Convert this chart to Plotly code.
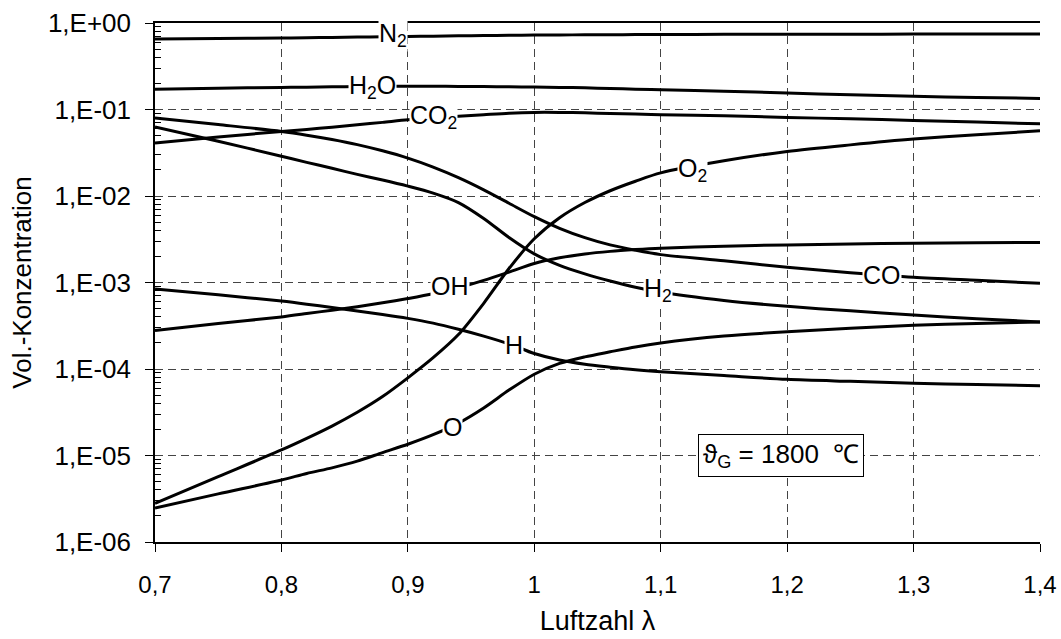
import math
import plotly.graph_objects as go

# Luftzahl lambda grid
lam = [0.70, 0.75, 0.80, 0.82, 0.84, 0.86, 0.88, 0.90, 0.92, 0.94, 0.96, 0.98, 1.00,
       1.02, 1.04, 1.06, 1.08, 1.10, 1.15, 1.20, 1.25, 1.30, 1.35, 1.40]

N2 = [0.652, 0.66, 0.67, 0.675, 0.682, 0.688, 0.694, 0.70, 0.705, 0.71, 0.715, 0.72, 0.725,
      0.728, 0.73, 0.732, 0.734, 0.736, 0.739, 0.741, 0.743, 0.744, 0.745, 0.746]
H2O = [0.172, 0.176, 0.180, 0.181, 0.183, 0.184, 0.185, 0.186, 0.186, 0.185, 0.184, 0.183, 0.182,
       0.180, 0.178, 0.175, 0.172, 0.169, 0.163, 0.155, 0.148, 0.142, 0.138, 0.134]
CO2 = [0.041, 0.048, 0.0558, 0.0588, 0.0625, 0.0665, 0.0710, 0.076, 0.080, 0.0835, 0.087, 0.0905,
       0.0925, 0.0925, 0.0915, 0.090, 0.0885, 0.087, 0.0845, 0.081, 0.078, 0.0748, 0.0715, 0.0684]
CO = [0.080, 0.067, 0.0557, 0.0505, 0.0450, 0.0393, 0.0333, 0.0274, 0.0216, 0.0163, 0.01178,
      0.00824, 0.00577, 0.00423, 0.0033, 0.00272, 0.00236, 0.0021, 0.00178, 0.0015, 0.0013,
      0.00115, 0.00106, 0.00098]
H2 = [0.063, 0.043, 0.0288, 0.0245, 0.0209, 0.0178, 0.0153, 0.0130, 0.0108, 0.0084, 0.0055,
      0.00331, 0.00214, 0.00158, 0.00126, 0.00104, 0.00088, 0.00077, 0.00062, 0.00053, 0.00047,
      0.00042, 0.00038, 0.00035]
O2 = [2.8e-6, 5.7e-6, 1.16e-5, 1.58e-5, 2.19e-5, 3.16e-5, 4.8e-5, 7.9e-5, 1.35e-4, 2.5e-4, 5.75e-4,
      1.45e-3, 3.2e-3, 5.6e-3, 8.4e-3, 0.0115, 0.0148, 0.0185, 0.0255, 0.0327, 0.039, 0.0455,
      0.051, 0.0568]
OH = [2.78e-4, 3.35e-4, 4.0e-4, 4.37e-4, 4.79e-4, 5.25e-4, 5.82e-4, 6.53e-4, 7.41e-4, 8.7e-4,
      1.06e-3, 1.32e-3, 1.66e-3, 1.93e-3, 2.14e-3, 2.29e-3, 2.4e-3, 2.49e-3, 2.63e-3, 2.72e-3,
      2.79e-3, 2.85e-3, 2.88e-3, 2.9e-3]
H = [8.4e-4, 7.2e-4, 6.1e-4, 5.62e-4, 5.13e-4, 4.68e-4, 4.27e-4, 3.85e-4, 3.39e-4, 2.88e-4,
     2.4e-4, 1.95e-4, 1.51e-4, 1.27e-4, 1.135e-4, 1.05e-4, 9.8e-5, 9.3e-5, 8.4e-5, 7.6e-5,
     7.2e-5, 6.85e-5, 6.6e-5, 6.4e-5]
O = [2.47e-6, 3.6e-6, 5.2e-6, 6.2e-6, 7.2e-6, 8.6e-6, 1.08e-5, 1.35e-5, 1.74e-5, 2.37e-5, 3.55e-5,
     5.7e-5, 8.7e-5, 1.16e-4, 1.38e-4, 1.58e-4, 1.8e-4, 2.0e-4, 2.4e-4, 2.7e-4, 2.95e-4, 3.2e-4,
     3.35e-4, 3.5e-4]

series = [N2, H2O, CO2, CO, H2, O2, OH, H, O]

# curve labels: text, lambda, concentration
label_text = ["N<sub>2</sub>", "H<sub>2</sub>O", "CO<sub>2</sub>", "O<sub>2</sub>", "OH",
              "H<sub>2</sub>", "H", "CO", "O"]
label_x = [0.888, 0.872, 0.92, 1.125, 0.933, 1.098, 0.984, 1.275, 0.935]
label_y = [0.72, 0.18, 0.083, 0.020, 9.0e-4, 8.3e-4, 1.9e-4, 1.23e-3, 2.16e-5]

x_ticks = [0.7, 0.8, 0.9, 1.0, 1.1, 1.2, 1.3, 1.4]
x_ticktext = ["0,7", "0,8", "0,9", "1", "1,1", "1,2", "1,3", "1,4"]
y_ticks = [1e-6, 1e-5, 1e-4, 1e-3, 1e-2, 1e-1, 1e0]
y_ticktext = ["1,E-06", "1,E-05", "1,E-04", "1,E-03", "1,E-02", "1,E-01", "1,E+00"]
y_minor = [k * d for d in [1e-6, 1e-5, 1e-4, 1e-3, 1e-2, 1e-1] for k in range(2, 10)]

FONT = "Liberation Sans, Arial, sans-serif"

fig = go.Figure()
for s in series:
    fig.add_trace(go.Scatter(x=lam, y=s, mode="lines",
                             line=dict(color="black", width=3, shape="spline", smoothing=0.8),
                             hoverinfo="skip"))

for t, lx, ly in zip(label_text, label_x, label_y):
    fig.add_annotation(x=lx, y=math.log10(ly), text=t, showarrow=False,
                       bgcolor="white", borderpad=0,
                       font=dict(family=FONT, size=25, color="black"))

fig.add_annotation(x=1.195, y=-5, text="ϑ<sub>G</sub> = 1800&nbsp; ℃", showarrow=False,
                   bgcolor="white", bordercolor="black", borderwidth=1, borderpad=4,
                   font=dict(family=FONT, size=26, color="black"))

fig.update_layout(
    width=1061, height=639,
    margin=dict(l=155, r=21, t=23, b=97, autoexpand=False),
    paper_bgcolor="white", plot_bgcolor="white",
    showlegend=False,
    font=dict(family=FONT, size=25, color="black"),
    xaxis=dict(range=[0.7, 1.4], tickmode="array", tickvals=x_ticks, ticktext=x_ticktext,
               automargin=False,
               ticks="outside", ticklen=8, tickcolor="black", tickwidth=1,
               ticklabelstandoff=12, tickfont=dict(family=FONT, size=24, color="black"),
               showline=True, linecolor="black", linewidth=1.5, mirror=True,
               showgrid=True, gridcolor="#444444", gridwidth=1, griddash="8px,5px",
               zeroline=False,
               title=dict(text="Luftzahl λ", standoff=15,
                          font=dict(family=FONT, size=27, color="black"))),
    yaxis=dict(type="log", range=[-6, 0], tickmode="array", tickvals=y_ticks, ticktext=y_ticktext,
               automargin=False,
               ticks="outside", ticklen=8, tickcolor="black", tickwidth=1,
               ticklabelstandoff=9, tickfont=dict(family=FONT, size=26, color="black"),
               showline=True, linecolor="black", linewidth=1.5,
               showgrid=True, gridcolor="#444444", gridwidth=1, griddash="8px,5px",
               zeroline=False,
               minor=dict(tickmode="array", tickvals=y_minor, ticks="inside", ticklen=6,
                          tickcolor="black", showgrid=False),
               title=dict(text="Vol.-Konzentration", standoff=9,
                          font=dict(family=FONT, size=26, color="black"))),
)

fig.write_html("out.html", config={"displayModeBar": False},
               post_script="document.body.style.margin='0px';"
                           "document.body.style.overflow='hidden';"
                           "document.documentElement.style.overflow='hidden';")
